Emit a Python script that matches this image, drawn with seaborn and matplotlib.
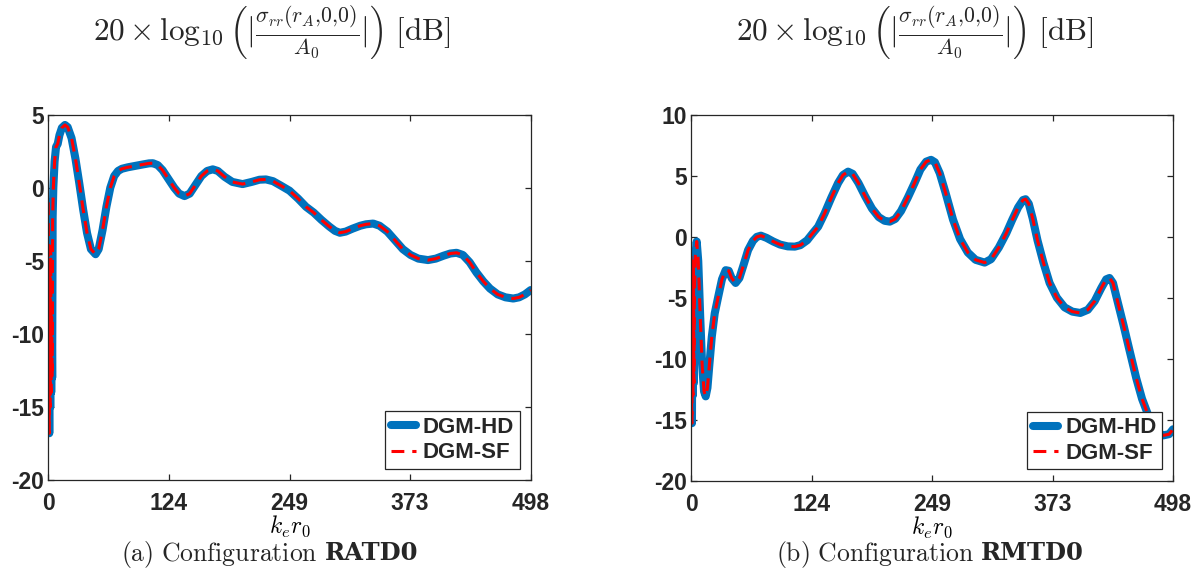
import numpy as np
import pandas as pd
import matplotlib
matplotlib.use("Agg")
import matplotlib.pyplot as plt
import seaborn as sns

# ---------------- data ----------------
left_k = [0.0, 0.5, 1.0, 1.5, 2.0, 2.5, 3.0, 3.5, 4.0, 4.5, 5.2, 6.5, 8.0, 9.7, 11.5,
          14, 17.2, 20, 24, 28, 32, 36, 40, 44, 48.8, 52, 56, 60, 64, 68, 72, 76, 82,
          90, 98, 104, 108, 113, 118, 124, 130, 135, 140.6, 146, 152, 158, 164, 169.8,
          175, 182, 190, 200.6, 210, 218, 224.7, 232, 240, 249, 258, 266, 274, 282, 290,
          296, 301, 307, 314, 322, 328, 335.4, 342, 350, 358, 366, 374, 382, 392, 400,
          408, 415, 421.5, 428, 435, 442, 449, 456, 464, 472, 480, 486, 492, 498]
left_db = [-1.0, -9.0, -16.8, -5.0, -15.0, -4.0, -14.0, -8.0, -13.0, -2.0, 0.0, 1.8, 2.8,
           3.0, 3.6, 4.1, 4.3, 4.15, 3.4, 2.0, 0.3, -1.5, -3.1, -4.2, -4.55, -4.2, -2.9,
           -1.3, 0.0, 0.8, 1.15, 1.3, 1.4, 1.5, 1.6, 1.67, 1.68, 1.55, 1.2, 0.6, 0.0,
           -0.4, -0.57, -0.4, 0.2, 0.8, 1.15, 1.26, 1.15, 0.75, 0.4, 0.25, 0.4, 0.55, 0.57,
           0.45, 0.15, -0.2, -0.75, -1.3, -1.7, -2.2, -2.65, -2.95, -3.08, -3.0, -2.8,
           -2.6, -2.5, -2.45, -2.6, -3.0, -3.6, -4.2, -4.6, -4.85, -4.95, -4.85, -4.65,
           -4.5, -4.45, -4.6, -5.1, -5.8, -6.4, -6.9, -7.3, -7.5, -7.58, -7.5, -7.3, -7.0]

right_k = [0.0, 0.5, 1.0, 1.5, 2.0, 2.5, 3.0, 3.5, 4.5, 5.9, 7.5, 9.5, 11.5, 13.5, 15.2,
           17, 19, 21.5, 24.5, 28.2, 32, 35.8, 39, 42, 46.1, 50, 54, 59, 64, 68, 72.2, 78,
           85, 92, 100, 107.3, 113, 120, 126, 131.4, 138, 145, 152, 157, 162.3, 167, 173,
           180, 187, 194, 200, 205.4, 211, 217, 224, 231, 237, 243, 248, 252, 257, 263,
           270.7, 278, 286, 294, 303.4, 310, 318, 325.8, 332, 338, 343, 345.7, 349, 353,
           358, 364, 370.5, 378, 386, 394, 402.2, 410, 417, 424, 429, 432.4, 436, 441,
           447, 453, 460, 466, 470.3, 474, 478, 483, 488, 494, 498]
right_db = [-1.6, -13.0, -15.3, -3.0, -13.0, -2.0, -12.0, -5.0, -1.5, -0.4, -2.0, -6.5,
            -10.5, -12.7, -13.1, -12.4, -10.5, -8.2, -6.3, -4.9, -3.5, -2.75, -2.8, -3.4,
            -3.8, -3.4, -2.4, -1.1, -0.35, -0.02, 0.08, -0.1, -0.4, -0.65, -0.8, -0.82,
            -0.7, -0.3, 0.3, 0.82, 1.9, 3.2, 4.4, 5.05, 5.33, 5.15, 4.4, 3.3, 2.3, 1.6,
            1.3, 1.23, 1.45, 2.1, 3.2, 4.4, 5.5, 6.15, 6.3, 6.1, 5.2, 3.6, 1.4, -0.2, -1.3,
            -1.9, -2.13, -1.85, -0.9, 0.28, 1.4, 2.4, 3.0, 3.07, 2.7, 1.5, -0.3, -2.1, -3.8,
            -5.0, -5.8, -6.15, -6.26, -6.0, -5.3, -4.2, -3.5, -3.39, -3.8, -5.4, -7.3,
            -9.3, -11.6, -13.3, -14.2, -15.0, -15.7, -16.1, -16.3, -16.2, -15.8]

methods = ["DGM-HD", "DGM-SF"]
x_ticks = [0, 124.5, 249, 373.5, 498]
x_ticklabels = ["0", "124", "249", "373", "498"]
left_yticks = [-20, -15, -10, -5, 0, 5]
right_yticks = [-20, -15, -10, -5, 0, 5, 10]
caption_prefix = [r"$\mathrm{(a)\ Configuration}$", r"$\mathrm{(b)\ Configuration}$"]
caption_bold = ["RATD0", "RMTD0"]
title_txt = r"$20 \times \log_{10}\left(|\frac{\sigma_{rr}(r_A{,}0{,}0)}{A_0}|\right)\ [\mathrm{dB}]$"
xlabel_txt = r"$k_e r_0$"

# ---------------- style ----------------
sns.set_style("ticks")
plt.rcParams["font.family"] = ["Liberation Sans", "DejaVu Sans"]
plt.rcParams["mathtext.fontset"] = "cm"

W, H = 1202, 577
fig = plt.figure(figsize=(W / 100, H / 100), dpi=100)
ax1 = fig.add_axes([48.3 / W, 1 - 480 / H, (530.7 - 48.3) / W, (480 - 114.7) / H])
ax2 = fig.add_axes([691 / W, 1 - 480.5 / H, (1173 - 691) / W, (480.5 - 114.7) / H])

BLUE = "#0072BD"
RED = "#FF0000"
AX_C = "#262626"

panels = [
    (ax1, left_k, left_db, left_yticks, (-20, 5)),
    (ax2, right_k, right_db, right_yticks, (-20, 10)),
]

for ax, k, db, yt, ylim in panels:
    df = pd.DataFrame({"k": k + k, "db": db + db,
                       "method": [methods[0]] * len(k) + [methods[1]] * len(k)})
    sns.lineplot(data=df[df.method == methods[0]], x="k", y="db", ax=ax,
                 color=BLUE, lw=5.8, estimator=None, sort=False,
                 label=methods[0], solid_joinstyle="round", solid_capstyle="round")
    sns.lineplot(data=df[df.method == methods[1]], x="k", y="db", ax=ax,
                 color=RED, lw=2.2, estimator=None, sort=False,
                 label=methods[1])
    ax.lines[1].set_dashes((4.2, 2.6))
    ax.set_xlim(0, 498)
    ax.set_ylim(*ylim)
    ax.set_xticks(x_ticks)
    ax.set_xticklabels(x_ticklabels)
    ax.set_yticks(yt)
    ax.set_yticklabels([str(v) for v in yt])
    for sp in ax.spines.values():
        sp.set_visible(True)
        sp.set_color(AX_C)
        sp.set_linewidth(0.9)
    ax.tick_params(direction="in", length=4, width=0.9, colors=AX_C,
                   top=True, right=True, labelsize=16.5)
    ax.tick_params(axis="x", pad=9)
    ax.tick_params(axis="y", pad=3)
    for lab in ax.get_xticklabels() + ax.get_yticklabels():
        lab.set_fontweight("bold")
        lab.set_color(AX_C)
    ax.set_xlabel(xlabel_txt, fontsize=17, labelpad=-1, color="black")
    ax.set_ylabel("")
    leg = ax.legend(loc="lower right", frameon=True, fancybox=False,
                    edgecolor=AX_C, framealpha=1,
                    prop={"family": "Liberation Sans", "weight": "bold", "size": 16},
                    handlelength=1.15, handletextpad=0.3, labelspacing=0.2,
                    borderpad=0.25, borderaxespad=0.5)
    leg.get_frame().set_linewidth(0.9)

# titles
fig.text(272 / W, 1 - 32 / H, title_txt, ha="center", va="center", fontsize=22.5)
fig.text(915 / W, 1 - 32 / H, title_txt, ha="center", va="center", fontsize=22.5)

# captions: regular part in Computer Modern, bold part in a bold serif
fig.canvas.draw()
renderer = fig.canvas.get_renderer()
for cx, pre, bold in zip([270, 930], caption_prefix, caption_bold):
    t1 = fig.text(0, 1 - 554 / H, pre, ha="left", va="center", fontsize=18.5)
    t2 = fig.text(0, 1 - 553 / H, bold, ha="left", va="center", fontsize=17.5,
                  family="DejaVu Serif", fontweight="bold")
    w1 = t1.get_window_extent(renderer).width
    w2 = t2.get_window_extent(renderer).width
    gap = 7
    x0 = cx - (w1 + gap + w2) / 2
    t1.set_x(x0 / W)
    t2.set_x((x0 + w1 + gap) / W)

fig.savefig("out.png", dpi=100, facecolor="white")
